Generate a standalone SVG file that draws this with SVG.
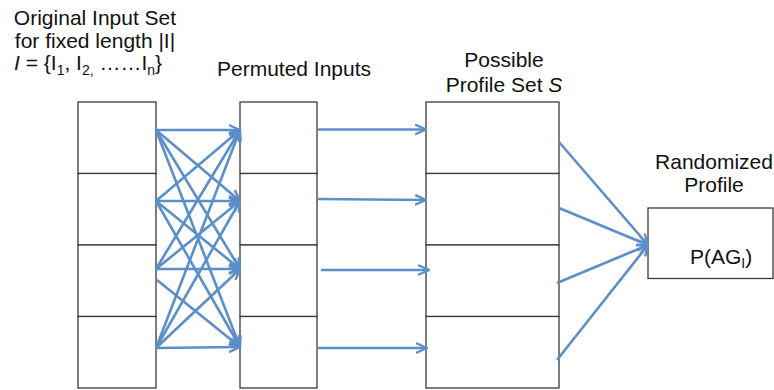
<svg xmlns="http://www.w3.org/2000/svg" width="774" height="390" viewBox="0 0 774 390">
  <style>
    .cell { fill: #ffffff; stroke: #3a3a3a; stroke-width: 1.3; }
    .lbl { font-family: "Liberation Sans", Arial, sans-serif; font-size: 21px; fill: #111111; }
    .mid { text-anchor: middle; }
    .sub { font-size: 14px; }
    .link { stroke: #5b8fc9; stroke-width: 2.6; fill: none; marker-end: url(#open); }
  </style>
  <defs>
    <marker id="open" viewBox="0 0 12 12" refX="11" refY="6" markerWidth="12" markerHeight="12" markerUnits="userSpaceOnUse" orient="auto">
      <path d="M1,1.5 L11,6 L1,10.5" fill="none" stroke="#5b8fc9" stroke-width="2.4" stroke-linecap="round" stroke-linejoin="round"/>
    </marker>
  </defs>

  <rect width="774" height="390" fill="#ffffff"/>

  <!-- titles -->
  <g id="labels">
    <text class="lbl mid" x="95" y="25">Original Input Set</text>
    <text class="lbl mid" x="95" y="48">for fixed length |I|</text>
    <text class="lbl" x="14" y="70"><tspan font-style="italic">I</tspan> = {I<tspan class="sub" dy="5">1</tspan><tspan dy="-5">, I</tspan><tspan class="sub" dy="5">2,</tspan><tspan dy="-5"> ……I</tspan><tspan class="sub" dy="5">n</tspan><tspan dy="-5">}</tspan></text>
    <text class="lbl mid" x="294" y="76">Permuted Inputs</text>
    <text class="lbl mid" x="504" y="67">Possible</text>
    <text class="lbl mid" x="504" y="92">Profile Set <tspan font-style="italic">S</tspan></text>
    <text class="lbl mid" x="714" y="169">Randomized</text>
    <text class="lbl mid" x="714" y="192">Profile</text>
  </g>

  <!-- original input set column -->
  <g id="input-set">
    <rect class="cell" x="78" y="102" width="78" height="71.5"/>
    <rect class="cell" x="78" y="173.5" width="78" height="71.5"/>
    <rect class="cell" x="78" y="245" width="78" height="71.5"/>
    <rect class="cell" x="78" y="316.5" width="78" height="71.5"/>
  </g>

  <!-- permuted inputs column -->
  <g id="permuted-inputs">
    <rect class="cell" x="240" y="102" width="77" height="71.5"/>
    <rect class="cell" x="240" y="173.5" width="77" height="71.5"/>
    <rect class="cell" x="240" y="245" width="77" height="71.5"/>
    <rect class="cell" x="240" y="316.5" width="77" height="71.5"/>
  </g>

  <!-- possible profile set column -->
  <g id="profile-set">
    <rect class="cell" x="426" y="102" width="133" height="71.5"/>
    <rect class="cell" x="426" y="173.5" width="133" height="71.5"/>
    <rect class="cell" x="426" y="245" width="133" height="71.5"/>
    <rect class="cell" x="426" y="316.5" width="133" height="71.5"/>
  </g>

  <!-- randomized profile -->
  <g id="randomized-profile">
    <rect class="cell" x="648" y="208" width="125" height="70.5"/>
    <text class="lbl" x="690" y="264">P(AG<tspan class="sub" dy="4">I</tspan><tspan dy="-4">)</tspan></text>
  </g>

  <!-- connectors -->
  <g id="connectors">
    <!-- every input to every permuted slot -->
    <line class="link" x1="156" y1="130" x2="240" y2="130"/>
    <line class="link" x1="156" y1="130" x2="240" y2="201"/>
    <line class="link" x1="156" y1="130" x2="240" y2="269"/>
    <line class="link" x1="156" y1="130" x2="240" y2="347"/>

    <line class="link" x1="156" y1="201" x2="240" y2="130"/>
    <line class="link" x1="156" y1="201" x2="240" y2="201"/>
    <line class="link" x1="156" y1="201" x2="240" y2="269"/>
    <line class="link" x1="156" y1="201" x2="240" y2="347"/>

    <line class="link" x1="156" y1="269" x2="240" y2="130"/>
    <line class="link" x1="156" y1="269" x2="240" y2="201"/>
    <line class="link" x1="156" y1="269" x2="240" y2="269"/>
    <line class="link" x1="157" y1="280" x2="240" y2="347"/>

    <line class="link" x1="156" y1="348" x2="240" y2="130"/>
    <line class="link" x1="156" y1="348" x2="240" y2="201"/>
    <line class="link" x1="156" y1="348" x2="240" y2="269"/>
    <line class="link" x1="156" y1="348" x2="240" y2="347"/>

    <!-- permuted inputs to profile set -->
    <line class="link" x1="318" y1="129.5" x2="426" y2="129.5"/>
    <line class="link" x1="317" y1="199" x2="426" y2="200"/>
    <line class="link" x1="321" y1="270" x2="429" y2="270"/>
    <line class="link" x1="318" y1="348" x2="427" y2="348"/>

    <!-- profile set to randomized profile -->
    <line class="link" x1="559" y1="142" x2="648" y2="245"/>
    <line class="link" x1="559" y1="208" x2="648" y2="245"/>
    <line class="link" x1="557" y1="283" x2="648" y2="245"/>
    <line class="link" x1="557" y1="360" x2="648" y2="245"/>
  </g>
</svg>
